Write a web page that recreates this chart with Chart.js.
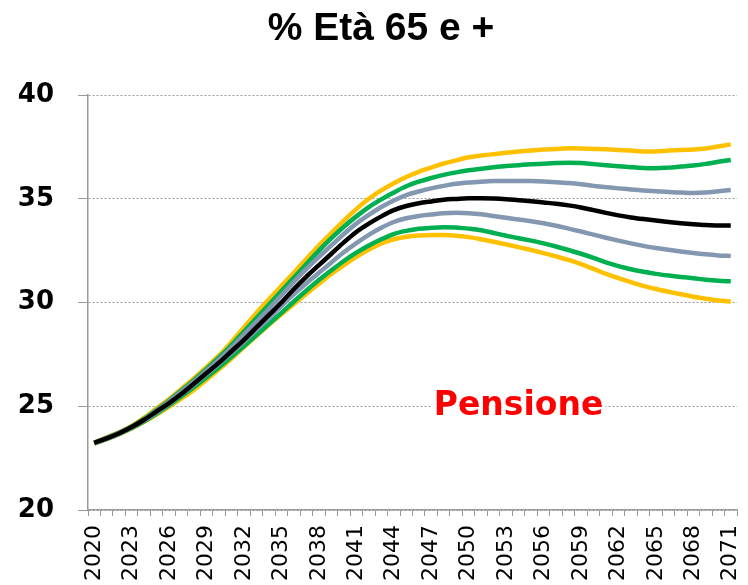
<!DOCTYPE html>
<html><head><meta charset="utf-8">
<script src="https://cdn.jsdelivr.net/npm/chart.js@4/dist/chart.umd.min.js"></script>
<style>html,body{margin:0;padding:0;background:#fff}#wrap{width:748px;height:585px}</style>
</head><body><div id="wrap"><canvas id="c" width="748" height="585"></canvas></div>
<script>
const chartTitle = '% Età 65 e +';
const noteText = 'Pensione';
const noteYear = '2054';
const noteValue = 25;
const years = ['2020','2021','2022','2023','2024','2025','2026','2027','2028','2029',
 '2030','2031','2032','2033','2034','2035','2036','2037','2038','2039',
 '2040','2041','2042','2043','2044','2045','2046','2047','2048','2049',
 '2050','2051','2052','2053','2054','2055','2056','2057','2058','2059',
 '2060','2061','2062','2063','2064','2065','2066','2067','2068','2069',
 '2070','2071'];
const xTickLabels = ['2020','2023','2026','2029','2032','2035','2038','2041','2044','2047','2050','2053','2056','2059','2062','2065','2068','2071'];
const yTicks = [20,25,30,35,40];

const centrale = [23.23,23.45,23.7,24.0,24.35,24.75,25.15,25.6,26.1,26.6,
 27.1,27.65,28.2,28.8,29.4,30.0,30.65,31.25,31.8,32.35,
 32.9,33.4,33.8,34.15,34.45,34.65,34.78,34.87,34.95,34.99,
 35.02,35.02,35.01,34.98,34.93,34.88,34.82,34.76,34.68,34.58,
 34.45,34.32,34.2,34.1,34.02,33.95,33.88,33.82,33.77,33.73,
 33.71,33.71];
const grigioAlto = [23.23,23.46,23.72,24.01,24.37,24.79,25.23,25.71,26.2,26.72,
 27.25,27.83,28.45,29.07,29.7,30.35,31.0,31.62,32.2,32.75,
 33.3,33.8,34.22,34.6,34.92,35.18,35.35,35.5,35.62,35.72,
 35.78,35.82,35.85,35.86,35.86,35.85,35.83,35.8,35.76,35.7,
 35.62,35.56,35.5,35.45,35.4,35.36,35.32,35.3,35.28,35.3,
 35.36,35.42];
const grigioBasso = [23.22,23.44,23.68,23.97,24.32,24.71,25.13,25.58,26.05,26.55,
 27.05,27.58,28.12,28.68,29.25,29.83,30.4,30.93,31.43,31.93,
 32.42,32.86,33.26,33.6,33.88,34.06,34.17,34.24,34.3,34.32,
 34.3,34.25,34.17,34.08,34.0,33.92,33.82,33.7,33.56,33.42,
 33.27,33.12,32.98,32.85,32.73,32.63,32.54,32.46,32.39,32.32,
 32.27,32.24];
const verdeAlto = [23.24,23.48,23.73,24.02,24.4,24.83,25.28,25.77,26.27,26.8,
 27.35,27.95,28.6,29.25,29.9,30.55,31.2,31.85,32.5,33.1,
 33.65,34.15,34.6,34.97,35.3,35.6,35.82,36.0,36.15,36.27,
 36.37,36.45,36.52,36.58,36.62,36.66,36.69,36.72,36.74,36.72,
 36.67,36.62,36.57,36.52,36.48,36.47,36.5,36.55,36.6,36.68,
 36.78,36.87];
const verdeBasso = [23.21,23.43,23.67,23.95,24.28,24.65,25.05,25.48,25.93,26.4,
 26.88,27.38,27.9,28.43,28.97,29.5,30.05,30.58,31.08,31.55,
 32.0,32.4,32.75,33.05,33.3,33.45,33.55,33.6,33.63,33.62,
 33.56,33.48,33.35,33.22,33.1,32.98,32.85,32.7,32.53,32.35,
 32.15,31.93,31.75,31.6,31.48,31.38,31.3,31.23,31.17,31.1,
 31.05,31.02];
const gialloAlto = [23.25,23.5,23.75,24.05,24.45,24.9,25.35,25.85,26.35,26.9,
 27.45,28.1,28.8,29.5,30.15,30.8,31.45,32.1,32.75,33.35,
 33.95,34.5,35.0,35.4,35.75,36.05,36.3,36.5,36.7,36.85,
 37.0,37.08,37.15,37.22,37.28,37.33,37.37,37.4,37.43,37.42,
 37.4,37.38,37.35,37.32,37.28,37.28,37.32,37.35,37.37,37.42,
 37.52,37.62];
const gialloBasso = [23.2,23.42,23.65,23.93,24.25,24.6,24.98,25.38,25.8,26.28,
 26.78,27.3,27.85,28.4,28.92,29.43,29.93,30.42,30.9,31.37,
 31.8,32.2,32.55,32.85,33.05,33.17,33.23,33.25,33.25,33.22,
 33.15,33.05,32.93,32.8,32.67,32.53,32.38,32.22,32.05,31.85,
 31.62,31.38,31.17,30.98,30.8,30.65,30.52,30.4,30.28,30.18,
 30.1,30.05];

const YELLOW = '#FFC000', GREEN = '#00B050', GREY = '#8497B0', BLACK = '#000000';
function ds(data, color){
  return {data, borderColor: color, backgroundColor: color, borderWidth: 4.5,
    pointRadius: 0, pointHoverRadius: 0, fill: false, cubicInterpolationMode: 'monotone'};
}

const notePlugin = {
  id: 'note',
  afterDraw(chart){
    const ctx = chart.ctx;
    ctx.save();
    // title
    ctx.font = 'bold 39px "Liberation Sans", Arial, sans-serif';
    ctx.fillStyle = '#000';
    ctx.textAlign = 'center';
    ctx.textBaseline = 'middle';
    ctx.fillText(chartTitle, 381, 29);
    // note
    const x = chart.scales.x.getPixelForValue(years.indexOf(noteYear));
    const y = chart.scales.y.getPixelForValue(noteValue);
    ctx.font = 'bold 33px "DejaVu Sans"';
    const w = ctx.measureText(noteText).width;
    ctx.fillStyle = '#ffffff';
    ctx.fillRect(x - w/2 - 2, y - 20, w + 4, 40);
    ctx.fillStyle = '#FF0000';
    ctx.fillText(noteText, x, y);
    ctx.restore();
  }
};

new Chart(document.getElementById('c'), {
  type: 'line',
  data: {
    labels: years,
    datasets: [ds(centrale, BLACK), ds(grigioAlto, GREY), ds(grigioBasso, GREY),
      ds(verdeAlto, GREEN), ds(verdeBasso, GREEN), ds(gialloAlto, YELLOW), ds(gialloBasso, YELLOW)]
  },
  options: {
    responsive: false, animation: false, devicePixelRatio: 1,
    layout: {padding: {left: 0, right: 11, top: 95, bottom: 0}},
    plugins: {
      legend: {display: false}, tooltip: {enabled: false}, title: {display: false}
    },
    scales: {
      x: {
        type: 'category', offset: true,
        grid: {display: true, drawOnChartArea: false, offset: true, tickLength: 6, color: '#999', lineWidth: 1},
        border: {display: true, color: '#999', width: 1.5},
        ticks: {autoSkip: false, maxRotation: 90, minRotation: 90, padding: 9, color: '#000',
          font: {family: '"DejaVu Sans", sans-serif', size: 22},
          callback: function(v, i){ const l = years[i]; return xTickLabels.includes(l) ? l : ''; }},
        afterFit(scale){ scale.height = 75; scale.paddingLeft = 0; scale.paddingRight = 0; scale.paddingTop = 0; scale.paddingBottom = 0; }
      },
      y: {
        min: 20, max: 40,
        afterBuildTicks(scale){ scale.ticks = yTicks.map(v => ({value: v})); },
        grid: {color: '#999', lineWidth: 1, tickLength: 10, tickBorderDash: [], tickColor: '#999'},
        border: {display: true, color: '#999', width: 1.5, dash: [2, 2]},
        ticks: {padding: 24, color: '#000', font: {family: '"DejaVu Sans", sans-serif', size: 26, weight: 'bold'}},
        afterFit(scale){ scale.width = 88; scale.paddingTop = 0; scale.paddingBottom = 0; }
      }
    }
  },
  plugins: [notePlugin]
});
</script></body></html>
